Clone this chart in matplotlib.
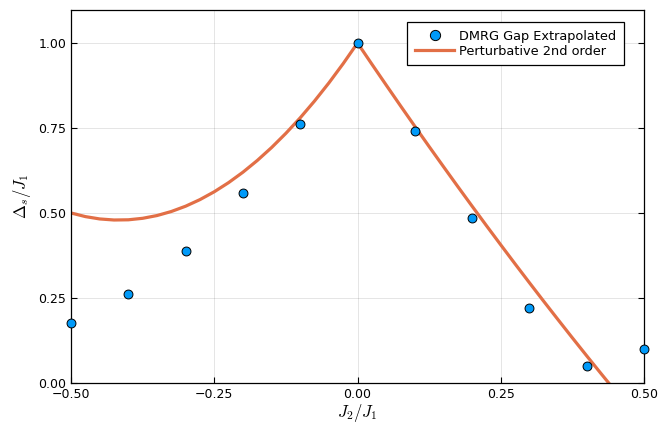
import matplotlib
matplotlib.use("Agg")
import matplotlib.pyplot as plt

# DMRG extrapolated gap data
j2_dmrg = [-0.5, -0.4, -0.3, -0.2, -0.1, 0.0, 0.1, 0.2, 0.3, 0.4, 0.5]
gap_dmrg = [0.176, 0.262, 0.388, 0.559, 0.762, 1.0, 0.741, 0.485, 0.221, 0.050, 0.100]

# Perturbative 2nd-order curve
j2_pert = [-0.500, -0.475, -0.450, -0.425, -0.400, -0.375, -0.350, -0.325, -0.300,
           -0.275, -0.250, -0.225, -0.200, -0.175, -0.150, -0.125, -0.100, -0.075,
           -0.050, -0.025, 0.000, 0.025, 0.050, 0.075, 0.100, 0.125, 0.150, 0.175,
           0.200, 0.225, 0.250, 0.275, 0.300, 0.325, 0.350, 0.375, 0.400, 0.425, 0.450]
gap_pert = [0.500, 0.4894, 0.4825, 0.4794, 0.480, 0.4844, 0.4925, 0.5044, 0.520,
            0.5394, 0.5625, 0.5894, 0.620, 0.6544, 0.6925, 0.7344, 0.780, 0.8294,
            0.8825, 0.9394, 1.000, 0.9378, 0.8763, 0.8153, 0.755, 0.6953, 0.6363, 0.5778,
            0.520, 0.4628, 0.4063, 0.3503, 0.295, 0.2403, 0.1863, 0.1328, 0.080, 0.0278, -0.0238]

xticks = [-0.50, -0.25, 0.00, 0.25, 0.50]
yticks = [0.00, 0.25, 0.50, 0.75, 1.00]

plt.rcParams['mathtext.fontset'] = 'cm'
fig = plt.figure(figsize=(6.58, 4.29), dpi=100)
ax = fig.add_axes([0.108, 0.1072, 0.8707, 0.8695])

ax.plot(j2_dmrg, gap_dmrg, linestyle='none', marker='o', markersize=6.4,
        markerfacecolor='#009af9', markeredgecolor='black', markeredgewidth=0.7,
        zorder=3, label='DMRG Gap Extrapolated', clip_on=False)
ax.plot(j2_pert, gap_pert, color='#e26f46', lw=2.3, zorder=2,
        label='Perturbative 2nd order')

ax.set_xlim(-0.5, 0.5)
ax.set_ylim(0, 1.097)
ax.set_xticks(xticks)
ax.set_yticks(yticks)
ax.set_xticklabels([f"{v:.2f}".replace('-', '\u2212') for v in xticks])
ax.set_yticklabels([f"{v:.2f}" for v in yticks])
ax.tick_params(direction='in', length=4, width=0.8, labelsize=9,
               top=False, right=True, labelright=False)
ax.grid(True, color='black', alpha=0.12, lw=0.6)
for s in ax.spines.values():
    s.set_linewidth(0.9)

ax.set_xlabel(r'$J_2/J_1$', fontsize=12, labelpad=1)
ax.set_ylabel(r'$\Delta_s/J_1$', fontsize=12, labelpad=4)

leg = ax.legend(loc='upper right', bbox_to_anchor=(0.965, 0.968), fontsize=9.3,
                fancybox=False, framealpha=1, edgecolor='black', markerscale=1.15,
                handlelength=3.0, borderpad=0.6, labelspacing=0.15,
                handletextpad=0.4, borderaxespad=0)
leg.get_frame().set_linewidth(0.9)

fig.savefig('out.png', dpi=100)
